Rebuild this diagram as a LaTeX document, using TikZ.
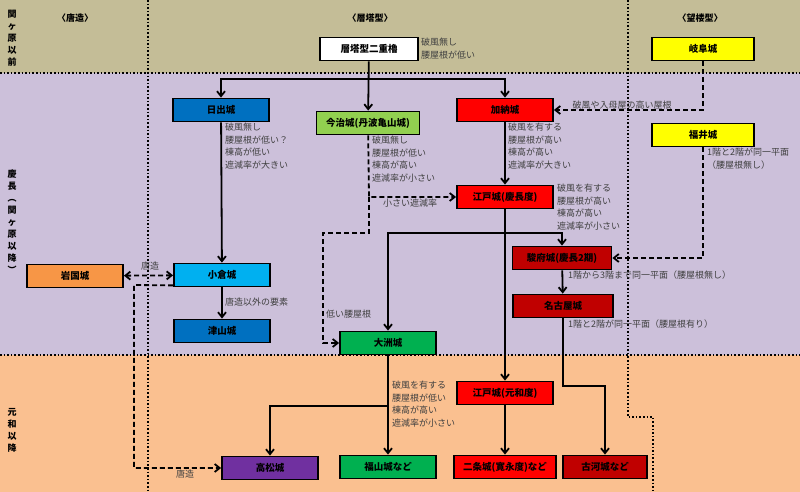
\documentclass[tikz,border=0pt]{standalone}
\usepackage{fontspec}
\setmainfont{Noto Sans CJK JP}
\usetikzlibrary{arrows.meta}
\definecolor{bandA}{HTML}{C4BD97}
\definecolor{bandB}{HTML}{CCC0DA}
\definecolor{bandC}{HTML}{FAC090}
\definecolor{cBlue}{HTML}{0070C0}
\definecolor{cLBlue}{HTML}{00B0F0}
\definecolor{cLGreen}{HTML}{92D050}
\definecolor{cGreen}{HTML}{00B050}
\definecolor{cRed}{HTML}{FF0000}
\definecolor{cDRed}{HTML}{C00000}
\definecolor{cYel}{HTML}{FFFF00}
\definecolor{cOr}{HTML}{F79646}
\definecolor{cPur}{HTML}{7030A0}
\definecolor{txt}{HTML}{404040}
\begin{document}
\begin{tikzpicture}[x=1pt,y=-1pt,
  box/.style={draw=black,line width=1.8pt,minimum width=96pt,minimum height=23pt,inner sep=0pt,font=\fontsize{9.5}{10}\selectfont\bfseries},
  lab/.style={text=txt,font=\fontsize{9}{12.5}\selectfont,inner sep=0pt,align=left},
  hd/.style={font=\fontsize{9}{10}\selectfont\bfseries,inner sep=0pt},
  vt/.style={font=\fontsize{9}{12}\selectfont\bfseries,inner sep=0pt,align=center},
  ar/.style={line width=1.8pt,-{Straight Barb[length=5pt,width=8pt]}},
  dar/.style={ar,dash pattern=on 5pt off 3pt},
  sep/.style={line width=1.6pt,dash pattern=on 1.6pt off 2pt}]
\useasboundingbox (0,0) rectangle (800,492);
\fill[bandA] (0,0) rectangle (800,73);
\fill[bandB] (0,73) rectangle (800,355);
\fill[bandC] (0,355) rectangle (800,492);
\draw[sep] (0,73) -- (800,73);
\draw[sep] (0,355) -- (800,355);
\draw[sep] (148,0) -- (148,492);
\draw[sep] (628,0) -- (628,417) -- (653,417) -- (653,492);
\node[vt] (v1) at (12,38) {関\\ヶ\\原\\以\\前};
\node[vt] (v2) at (12,222) {慶\\長\\︵\\関\\ヶ\\原\\以\\降\\︶};
\node[vt] (v3) at (12,430) {元\\和\\以\\降};
\node[hd] (h1) at (75,18) {〈唐造〉};
\node[hd] (h2) at (370,18) {〈層塔型〉};
\node[hd] (h3) at (700,18) {〈望楼型〉};

\node[box,fill=white,minimum width=98pt] (sou) at (369,49) {層塔型二重櫓};
\node[box,fill=cYel,minimum width=102pt] (gifu) at (703,49) {岐阜城};
\node[box,fill=cBlue] (hiji) at (221,110) {日出城};
\node[box,fill=cLGreen,minimum width=103pt] (imab) at (368,123) {今治城(丹波亀山城)};
\node[box,fill=cRed] (kano) at (505,110) {加納城};
\node[box,fill=cYel,minimum width=102pt] (fukui) at (703,135) {福井城};
\node[box,fill=cRed] (edo1) at (505,197) {江戸城(慶長度)};
\node[box,fill=cDRed,minimum width=99pt] (sunp) at (562,258) {駿府城(慶長2期)};
\node[box,fill=cDRed,minimum width=100pt] (nago) at (563,306) {名古屋城};
\node[box,fill=cOr] (iwak) at (75,276) {岩国城};
\node[box,fill=cLBlue] (koku) at (222,275) {小倉城};
\node[box,fill=cBlue] (tsuy) at (222,331) {津山城};
\node[box,fill=cGreen] (ozu) at (388,343) {大洲城};
\node[box,fill=cRed] (edo2) at (505,393) {江戸城(元和度)};
\node[box,fill=cPur] (taka) at (270,468) {高松城};
\node[box,fill=cGreen] (fuku) at (388,467) {福山城など};
\node[box,fill=cRed,minimum width=102pt] (nijo) at (505,467) {二条城(寛永度)など};
\node[box,fill=cDRed,minimum width=84pt] (koga) at (605,467) {古河城など};

\coordinate (j1) at (369,79);
\draw[ar] (sou) -- (imab);
\draw[ar] (j1) -| (hiji);
\draw[ar] (j1) -| (kano);
\draw[dar] (gifu) |- (kano);
\draw[ar] (kano) -- (edo1);
\coordinate (d1) at (369,197);
\draw[dar] (imab) -- (d1) -- (edo1);
\draw[dar] (d1) -- (369,233) -- (323,233) |- (ozu);
\coordinate (j2) at (505,233);
\draw[ar] (edo1) -- (edo2);
\draw[ar] (j2) -| (ozu);
\draw[ar] (j2) -| (sunp);
\draw[dar] (fukui) |- (sunp);
\draw[ar] (sunp) -- (nago);
\draw[ar] (nago.south) -- (563,386) -| (koga);
\draw[ar] (edo2) -- (nijo);
\draw[ar] (ozu) -- (fuku);
\draw[ar] (388,406) -| (taka);
\draw[ar] (hiji) -- (koku);
\draw[dar,{Straight Barb[length=5pt,width=8pt]}-{Straight Barb[length=5pt,width=8pt]}] (iwak) -- (koku);
\draw[ar] (koku) -- (tsuy);
\draw[dar] (koku.south west) ++(0,-2) -- (134,285) |- (taka);

\node[lab,anchor=north west] (t1) at (421,38) {破風無し\\腰屋根が低い};
\node[lab,anchor=south] (t2) at (622,109) {破風や入母屋の高い屋根};
\node[lab,anchor=north west] (t3) at (225,123) {破風無し\\腰屋根が低い？\\棟高が低い\\遮減率が大きい};
\node[lab,anchor=north west] (t4) at (372,136) {破風無し\\腰屋根が低い\\棟高が高い\\遮減率が小さい};
\node[lab,anchor=north west] (t5) at (508,123) {破風を有する\\腰屋根が高い\\棟高が高い\\遮減率が大きい};
\node[lab,anchor=north west] (t6) at (707,148) {1階と2階が同一平面\\（腰屋根無し）};
\node[lab,anchor=north] (t7) at (410,199) {小さい遮減率};
\node[lab,anchor=north west] (t8) at (557,184) {破風を有する\\腰屋根が高い\\棟高が高い\\遮減率が小さい};
\node[lab,anchor=north west] (t9) at (568,271) {1階から3階まで同一平面（腰屋根無し）};
\node[lab,anchor=north west] (t10) at (568,320) {1階と2階が同一平面（腰屋根有り）};
\node[lab,anchor=west] (t11) at (326,314) {低い腰屋根};
\node[lab,anchor=south] (t12) at (150,270) {唐造};
\node[lab,anchor=west] (t13) at (225,302) {唐造以外の要素};
\node[lab,anchor=north west] (t14) at (392,381) {破風を有する\\腰屋根が低い\\棟高が高い\\遮減率が小さい};
\node[lab,anchor=north] (t15) at (185,470) {唐造};
\end{tikzpicture}
\end{document}
